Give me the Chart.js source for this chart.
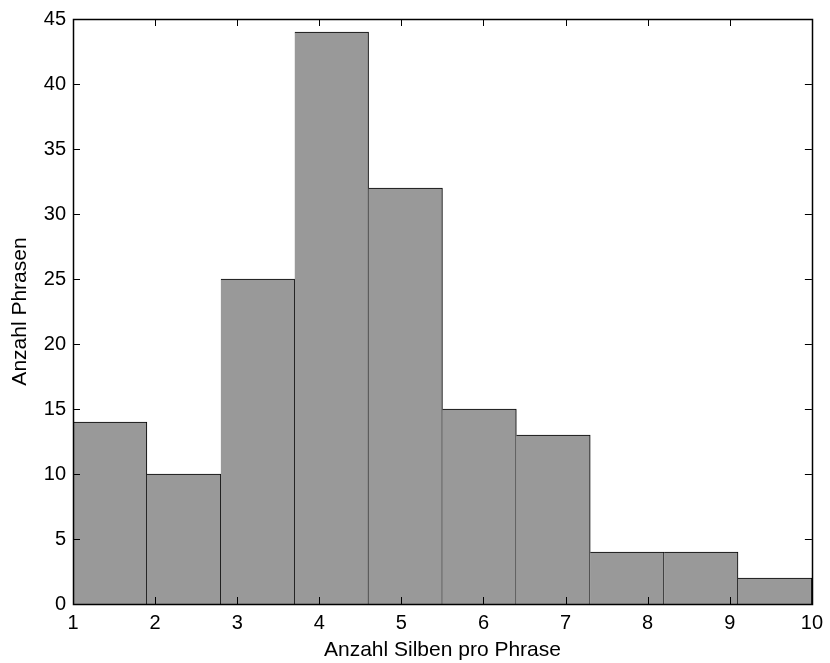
<!DOCTYPE html>
<html>
<head>
<meta charset="utf-8">
<script src="https://cdn.jsdelivr.net/npm/chart.js@4/dist/chart.umd.min.js"></script>
<style>
  html, body { margin: 0; padding: 0; background: #fff; }
  #wrap { width: 830px; height: 663px; }
</style>
</head>
<body>
<div id="wrap"><canvas id="chart" width="830" height="663"></canvas></div>
<script>
// bin centres of the histogram (bins are 0.9 wide between 1 and 10)
const binCenters = [1.45, 2.35, 3.25, 4.15, 5.05, 5.95, 6.85, 7.75, 8.65, 9.55];
const counts = [14, 10, 25, 44, 32, 15, 13, 4, 4, 2];
const xTicks = [1, 2, 3, 4, 5, 6, 7, 8, 9, 10];
const yTicks = [0, 5, 10, 15, 20, 25, 30, 35, 40, 45];

const xLabel = "Anzahl Silben pro Phrase";
const yLabel = "Anzahl Phrasen";

const FONT = "'Liberation Sans', Arial, Helvetica, sans-serif";

// MATLAB-style box with inward ticks on all four sides
const boxPlugin = {
  id: "box",
  afterDatasetsDraw(chart) {
    const { ctx, chartArea: a, scales } = chart;
    const len = 7;
    ctx.save();
    ctx.strokeStyle = "#000";
    ctx.lineWidth = 1;
    ctx.beginPath();
    xTicks.forEach((v) => {
      const px = Math.round(scales.x.getPixelForValue(v)) + 0.5;
      ctx.moveTo(px, a.bottom);
      ctx.lineTo(px, a.bottom - len);
      ctx.moveTo(px, a.top);
      ctx.lineTo(px, a.top + len);
    });
    yTicks.forEach((v) => {
      const py = Math.round(scales.y.getPixelForValue(v)) + 0.5;
      ctx.moveTo(a.left, py);
      ctx.lineTo(a.left + len, py);
      ctx.moveTo(a.right, py);
      ctx.lineTo(a.right - len, py);
    });
    ctx.stroke();
    ctx.lineWidth = 1.5;
    ctx.strokeRect(Math.round(a.left) + 0.5, Math.round(a.top) + 0.5,
      Math.round(a.right - a.left), Math.round(a.bottom - a.top));
    ctx.restore();
  },
};

new Chart(document.getElementById("chart").getContext("2d"), {
  type: "bar",
  data: {
    datasets: [
      {
        data: binCenters.map((x, i) => ({ x: x, y: counts[i] })),
        backgroundColor: "#999999",
        borderColor: "#000000",
        borderWidth: { top: 1, right: 1, left: 0, bottom: 0 },
        borderSkipped: false,
        barPercentage: 1,
        categoryPercentage: 1,
      },
    ],
  },
  options: {
    responsive: false,
    animation: false,
    events: [],
    layout: { padding: { top: 19, right: 16, left: 0, bottom: 0 } },
    plugins: { legend: { display: false }, tooltip: { enabled: false } },
    scales: {
      x: {
        type: "linear",
        offset: false,
        min: 1,
        max: 10,
        afterBuildTicks: (s) => { s.ticks = xTicks.map((v) => ({ value: v })); },
        afterFit: (s) => { s.height = 59; },
        grid: { display: false, drawTicks: false },
        border: { display: false },
        ticks: { color: "#000", padding: 7, maxRotation: 0, font: { family: FONT, size: 20 } },
        title: { display: true, text: xLabel, color: "#000", padding: 0, font: { family: FONT, size: 21 } },
      },
      y: {
        min: 0,
        max: 45,
        afterBuildTicks: (s) => { s.ticks = yTicks.map((v) => ({ value: v })); },
        afterFit: (s) => { s.width = 73; },
        grid: { display: false, drawTicks: false },
        border: { display: false },
        ticks: { color: "#000", padding: 7, font: { family: FONT, size: 20 } },
        title: { display: true, text: yLabel, color: "#000", padding: { top: 8, bottom: 0 }, font: { family: FONT, size: 21 } },
      },
    },
  },
  plugins: [boxPlugin],
});
</script>
</body>
</html>
